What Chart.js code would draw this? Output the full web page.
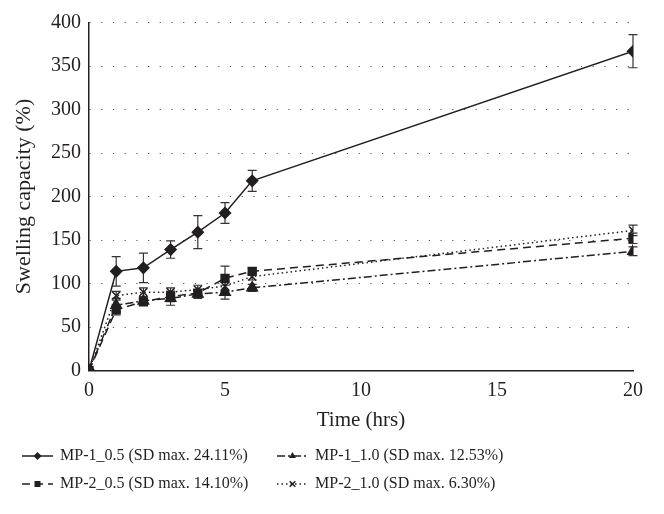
<!DOCTYPE html>
<html>
<head>
    <title>Swelling capacity</title>
    <script src="https://cdn.jsdelivr.net/npm/chart.js"></script>
    <style>
        body { margin: 0; padding: 0; background: white; }
        #wrap { width: 664px; height: 514px; }
    </style>
</head>
<body>
<div id="wrap"><canvas id="chart"></canvas></div>
<script>
    // Time points (hrs)
    const times = [0, 1, 2, 3, 4, 5, 6, 20];

    // Swelling capacity (%) and standard deviations
    const mp1_05 = [0, 114, 118, 139, 159, 181, 218, 367];
    const mp1_05Err = [0, 17, 17, 10, 19, 12, 12, 19];
    const mp2_05 = [0, 70, 79, 85, 89, 106, 114, 152];
    const mp2_05Err = [0, 6, 4, 6, 4, 14, 4, 6];
    const mp1_10 = [0, 75, 80, 83, 88, 90, 95, 137];
    const mp1_10Err = [0, 8, 5, 8, 5, 8, 4, 5];
    const mp2_10 = [0, 86, 90, 90, 93, 97, 108, 161];
    const mp2_10Err = [0, 5, 5, 5, 5, 6, 4, 6];

    const seriesLabels = [
        'MP-1_0.5 (SD max. 24.11%)',
        'MP-1_1.0 (SD max. 12.53%)',
        'MP-2_0.5 (SD max. 14.10%)',
        'MP-2_1.0 (SD max. 6.30%)'
    ];

    const ink = '#231f20';
    const serif = '"Liberation Serif", "DejaVu Serif", serif';

    function pts(values) {
        return values.map((v, i) => ({ x: times[i], y: v }));
    }

    function makeSet(label, values, errs, dash, marker, radius) {
        return {
            label: label,
            data: pts(values),
            errors: errs,
            borderColor: ink,
            backgroundColor: ink,
            borderWidth: 1.5,
            borderDash: dash,
            pointStyle: marker,
            pointRadius: radius,
            pointBorderWidth: 1.5,
            tension: 0
        };
    }

    const datasets = [
        makeSet(seriesLabels[0], mp1_05, mp1_05Err, [], 'rectRot', 5.5),
        makeSet(seriesLabels[1], mp1_10, mp1_10Err, [8, 3, 2, 3], 'triangle', 6),
        makeSet(seriesLabels[2], mp2_05, mp2_05Err, [8, 5], 'rect', 5.5),
        makeSet(seriesLabels[3], mp2_10, mp2_10Err, [1.5, 3], 'crossRot', 5.5)
    ];

    // error bars drawn through the chart scales
    const errorBars = {
        id: 'errorBars',
        beforeDatasetsDraw(chart) {
            const ctx = chart.ctx;
            const xs = chart.scales.x, ys = chart.scales.y;
            ctx.save();
            ctx.strokeStyle = '#333';
            ctx.lineWidth = 1.2;
            chart.data.datasets.forEach(ds => {
                ds.data.forEach((p, i) => {
                    const e = ds.errors[i];
                    if (!e) return;
                    const x = xs.getPixelForValue(p.x);
                    const y1 = ys.getPixelForValue(p.y + e);
                    const y2 = ys.getPixelForValue(p.y - e);
                    ctx.beginPath();
                    ctx.moveTo(x, y1); ctx.lineTo(x, y2);
                    ctx.moveTo(x - 4.5, y1); ctx.lineTo(x + 4.5, y1);
                    ctx.moveTo(x - 4.5, y2); ctx.lineTo(x + 4.5, y2);
                    ctx.stroke();
                });
            });
            ctx.restore();
        }
    };

    function drawMarker(ctx, style, x, y, r) {
        ctx.beginPath();
        if (style === 'rectRot') {
            ctx.moveTo(x, y - r); ctx.lineTo(x + r, y); ctx.lineTo(x, y + r); ctx.lineTo(x - r, y);
            ctx.closePath(); ctx.fill();
        } else if (style === 'rect') {
            ctx.rect(x - r * 0.75, y - r * 0.75, r * 1.5, r * 1.5); ctx.fill();
        } else if (style === 'triangle') {
            ctx.moveTo(x, y - r); ctx.lineTo(x + r * 0.87, y + r * 0.5); ctx.lineTo(x - r * 0.87, y + r * 0.5);
            ctx.closePath(); ctx.fill();
        } else {
            const d = r * 0.7;
            ctx.moveTo(x - d, y - d); ctx.lineTo(x + d, y + d);
            ctx.moveTo(x + d, y - d); ctx.lineTo(x - d, y + d);
            ctx.stroke();
        }
    }

    // two-column legend under the axis
    const legendBlock = {
        id: 'legendBlock',
        afterDraw(chart) {
            const ctx = chart.ctx;
            const cols = [22, 277];
            const rows = [456, 484];
            ctx.save();
            ctx.font = '16px ' + serif;
            ctx.fillStyle = ink;
            ctx.strokeStyle = ink;
            ctx.textBaseline = 'middle';
            chart.data.datasets.forEach((ds, i) => {
                const x = cols[i % 2], y = rows[Math.floor(i / 2)];
                ctx.lineWidth = 1.5;
                ctx.setLineDash(ds.borderDash);
                ctx.beginPath();
                ctx.moveTo(x, y); ctx.lineTo(x + 31, y);
                ctx.stroke();
                ctx.setLineDash([]);
                drawMarker(ctx, ds.pointStyle, x + 15.5, y, 4);
                ctx.fillText(ds.label, x + 38, y);
            });
            ctx.restore();
        }
    };

    window.onload = function() {
        const ctx = document.getElementById('chart').getContext('2d');
        new Chart(ctx, {
            type: 'line',
            data: { datasets: datasets },
            plugins: [errorBars, legendBlock],
            options: {
                responsive: true,
                maintainAspectRatio: false,
                animation: false,
                layout: { padding: { top: 22.5, right: 31, bottom: 73.5, left: 0 } },
                plugins: {
                    legend: { display: false },
                    tooltip: { enabled: false }
                },
                scales: {
                    x: {
                        type: 'linear',
                        min: 0, max: 20,
                        afterFit: s => { s.height = 70; },
                        ticks: {
                            stepSize: 5,
                            color: ink,
                            padding: 0,
                            font: { family: serif, size: 20 }
                        },
                        grid: { display: false },
                        border: { color: ink, width: 1.5 },
                        title: {
                            display: true,
                            text: 'Time (hrs)',
                            color: ink,
                            font: { family: serif, size: 21 },
                            padding: { top: 0, bottom: 7 }
                        }
                    },
                    y: {
                        min: 0, max: 400,
                        afterFit: s => { s.width = 89; },
                        ticks: {
                            stepSize: 50,
                            color: ink,
                            padding: 8,
                            font: { family: serif, size: 20 }
                        },
                        grid: {
                            color: '#555',
                            lineWidth: 1,
                            drawTicks: false
                        },
                        border: { color: ink, width: 1.5, dash: [1.2, 10.5] },
                        title: {
                            display: true,
                            text: 'Swelling capacity (%)',
                            color: ink,
                            font: { family: serif, size: 22 },
                            padding: { top: 11, bottom: 0 }
                        }
                    }
                }
            }
        });
    };
</script>
</body>
</html>
